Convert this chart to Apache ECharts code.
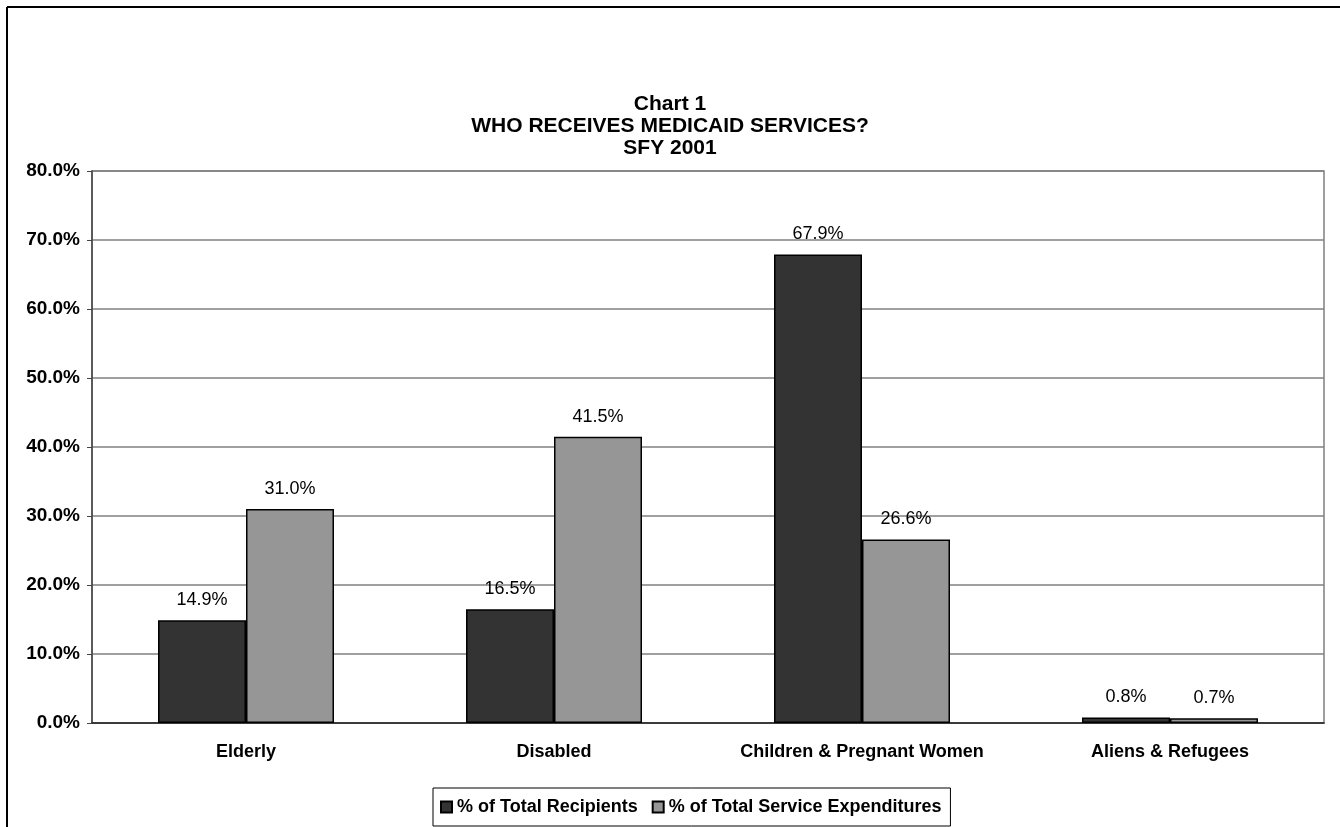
<!DOCTYPE html>
<html>
<head>
<meta charset="utf-8">
<script src="https://cdn.jsdelivr.net/npm/echarts@6/dist/echarts.min.js"></script>
<style>
  html, body { margin: 0; padding: 0; background: #fff; }
  #chart { width: 1340px; height: 827px; }
</style>
</head>
<body>
<div id="chart"></div>
<script>
// data
var categories = ['Elderly', 'Disabled', 'Children & Pregnant Women', 'Aliens & Refugees'];
var recipients = [14.9, 16.5, 67.9, 0.8];
var expenditures = [31.0, 41.5, 26.6, 0.7];
var seriesNames = ['% of Total Recipients', '% of Total Service Expenditures'];

var FONT = '"Liberation Sans", Arial, sans-serif';

function pct(v) {
	return Number(v).toFixed(1) + '%';
}

function barSeries(name, data, color) {
	return {
		name: name,
		type: 'bar',
		data: data,
		barWidth: 88,
		barGap: '0%',
		itemStyle: { color: color, borderColor: '#000', borderWidth: 1.5 },
		label: {
			show: true,
			position: 'top',
			distance: 11,
			fontFamily: FONT,
			fontSize: 18,
			color: '#000',
			formatter: function(p) { return pct(p.value); }
		}
	};
}

var chart = echarts.init(document.getElementById('chart'));
chart.setOption({
	backgroundColor: '#fff',
	animation: false,
	title: {
		text: 'Chart 1\nWHO RECEIVES MEDICAID SERVICES?\nSFY 2001',
		left: 'center',
		top: 88,
		textStyle: { fontFamily: FONT, fontSize: 21, fontWeight: 'bold', color: '#000', lineHeight: 22 }
	},
	legend: {
		data: seriesNames,
		left: 433,
		top: 788,
		padding: [10, 9, 10, 7],
		itemGap: 14,
		itemWidth: 11,
		itemHeight: 11,
		icon: 'rect',
		borderColor: '#000',
		borderWidth: 1,
		textStyle: { fontFamily: FONT, fontSize: 18, fontWeight: 'bold', color: '#000', padding: [0, 0, 0, 0] }
	},
	grid: {
		left: 92,
		right: 16,
		top: 171,
		bottom: 104,
		show: true,
		borderColor: '#808080',
		borderWidth: 1.5
	},
	xAxis: {
		type: 'category',
		data: categories,
		axisLine: { lineStyle: { color: '#222', width: 1.5 } },
		axisTick: { length: 5, lineStyle: { color: '#666', width: 1.5 } },
		axisLabel: { interval: 0, hideOverlap: false, margin: 20, fontFamily: FONT, fontSize: 18, fontWeight: 'bold', color: '#000' }
	},
	yAxis: {
		type: 'value',
		min: 0,
		max: 80,
		interval: 10,
		axisLine: { show: true, lineStyle: { color: '#444', width: 1.5 } },
		axisTick: { show: true, length: 5, lineStyle: { color: '#444' } },
		splitLine: { lineStyle: { color: '#808080', width: 1.5 } },
		axisLabel: { margin: 12, fontFamily: FONT, fontSize: 19, fontWeight: 'bold', color: '#000',
			formatter: function(v) { return pct(v); } }
	},
	series: [
		barSeries(seriesNames[0], recipients, '#333333'),
		barSeries(seriesNames[1], expenditures, '#969696')
	],
	graphic: [
		{ type: 'line', shape: { x1: 7, y1: 7, x2: 1340, y2: 7 }, style: { stroke: '#000', lineWidth: 2 } },
		{ type: 'line', shape: { x1: 7, y1: 7, x2: 7, y2: 827 }, style: { stroke: '#000', lineWidth: 2 } }
	]
});
</script>
</body>
</html>
